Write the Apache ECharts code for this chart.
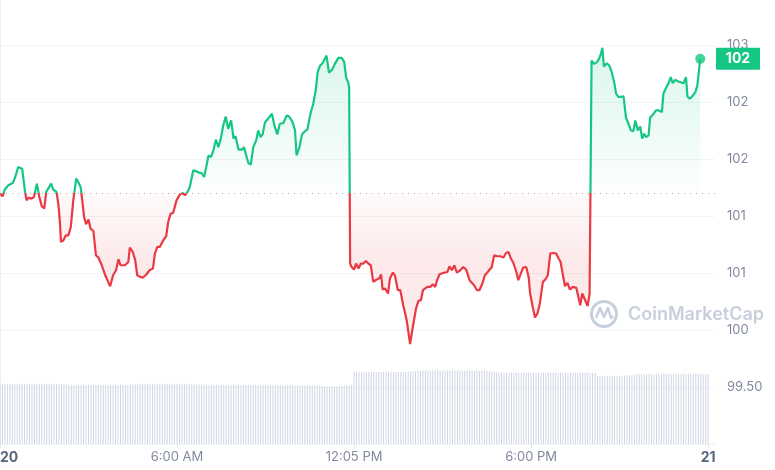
<!DOCTYPE html>
<html><head><meta charset="utf-8">
<script src="https://cdn.jsdelivr.net/npm/echarts@6/dist/echarts.min.js"></script>
<style>html,body{margin:0;padding:0;background:#fff}#c{width:775px;height:470px}</style>
</head><body><div id="c"></div>
<script>
// minutes since 00:00 on day 20
const times = [
0,5,10,17,26,31,37,41,45,51,
54,58,64,69,75,80,85,90,94,98,
104,108,115,119,122,124,129,134,139,144,
149,155,159,164,168,171,175,180,184,190,
195,200,207,214,220,224,230,236,241,245,
254,261,264,270,275,279,285,291,298,304,
311,315,320,325,332,338,342,347,352,359,
366,372,376,381,386,393,399,405,410,415,
420,424,429,434,439,444,449,454,459,464,
470,475,479,485,492,496,500,505,510,515,
521,525,530,534,539,544,548,553,558,564,
569,576,583,588,595,600,603,609,614,620,
625,631,637,642,646,651,656,660,664,669,
675,681,688,695,700,704,708,710,712,715,
720,724,729,734,739,744,749,754,759,766,
771,775,778,783,789,793,799,803,809,814,
820,827,834,839,846,851,856,860,864,869,
875,880,885,889,894,898,904,910,914,919,
924,929,936,942,948,955,959,964,970,975,
981,986,991,995,1000,1005,1010,1017,1024,1029,
1034,1039,1044,1050,1054,1059,1064,1070,1075,1078,
1084,1088,1093,1098,1104,1109,1114,1119,1125,1131,
1136,1140,1146,1149,1154,1159,1165,1172,1176,1180,
1184,1190,1195,1199,1203,1208,1214,1218,1222,1225,
1228,1234,1239,1244,1249,1253,1258,1262,1268,1273,
1278,1283,1288,1292,1297,1302,1306,1310,1314,1319,
1322,1328,1334,1340,1346,1349,1355,1359,1364,1368,
1373,1378,1384,1390,1395,1398,1403,1409,1414,1418,1424];
const prices = [
101.204,101.175,101.237,101.272,101.292,101.345,101.432,101.447,101.418,101.213,
101.140,101.164,101.155,101.169,101.287,101.169,101.088,101.068,101.213,101.243,
101.287,101.237,101.213,101.096,100.936,100.775,100.789,100.833,100.833,100.906,
101.140,101.331,101.301,101.257,101.111,100.994,100.930,100.971,100.892,100.871,
100.658,100.638,100.570,100.482,100.424,100.386,100.482,100.526,100.623,100.570,
100.570,100.599,100.725,100.687,100.614,100.482,100.468,100.462,100.491,100.526,
100.541,100.673,100.731,100.731,100.789,100.825,100.950,101.024,101.029,101.140,
101.193,101.204,101.184,101.211,101.257,101.404,101.395,101.383,101.380,101.345,
101.447,101.535,101.520,101.579,101.673,101.608,101.682,101.798,101.877,101.769,
101.842,101.682,101.704,101.585,101.585,101.608,101.594,101.468,101.454,101.608,
101.667,101.754,101.696,101.719,101.827,101.851,101.842,101.901,101.798,101.719,
101.813,101.818,101.886,101.877,101.827,101.754,101.535,101.608,101.719,101.748,
101.761,101.895,101.989,102.105,102.266,102.325,102.345,102.354,102.412,102.261,
102.287,102.339,102.392,102.392,102.354,102.217,102.178,102.134,100.585,100.555,
100.532,100.585,100.541,100.585,100.585,100.608,100.585,100.570,100.424,100.445,
100.453,100.489,100.357,100.366,100.322,100.453,100.506,100.482,100.351,100.351,
100.219,100.088,99.877,100.015,100.190,100.257,100.263,100.351,100.351,100.380,
100.380,100.404,100.380,100.439,100.491,100.482,100.506,100.511,100.561,100.526,
100.570,100.506,100.526,100.555,100.532,100.439,100.430,100.395,100.351,100.351,
100.410,100.482,100.506,100.497,100.555,100.658,100.649,100.649,100.638,100.678,
100.687,100.629,100.590,100.511,100.439,100.497,100.550,100.555,100.468,100.322,
100.190,100.111,100.147,100.239,100.424,100.445,100.482,100.673,100.678,100.673,
100.629,100.599,100.453,100.386,100.415,100.357,100.380,100.371,100.357,100.219,
100.322,100.263,100.211,100.322,102.368,102.339,102.354,102.383,102.427,102.480,
102.316,102.345,102.325,102.266,102.178,102.076,102.047,102.061,102.053,101.866,
101.813,101.754,101.748,101.842,101.754,101.789,101.682,101.725,101.696,101.711,
101.866,101.895,101.930,101.930,101.915,102.076,102.134,102.164,102.222,102.169,
102.199,102.187,102.178,102.169,102.222,102.053,102.032,102.061,102.090,102.149,102.383];
// 24h volume (millions), one bar every 5 minutes
const volumeStepMin = 5;
const volumes = [
600,602,601,603,600,599,601,602,600,601,603,602,600,601,599,600,602,601,600,603,
601,600,602,601,600,599,598,596,592,590,591,589,590,592,590,589,591,590,588,590,
589,591,590,592,590,589,590,591,589,590,592,591,590,594,598,601,600,602,601,603,
602,601,600,603,601,602,600,599,601,602,600,598,601,600,602,603,601,600,599,596,
594,592,593,591,592,590,591,593,592,590,589,591,592,590,591,589,590,592,591,590,
589,590,591,592,590,588,589,590,591,589,590,588,587,588,589,587,586,588,587,585,
586,585,587,586,585,584,585,586,584,583,580,578,577,576,578,577,575,576,578,580,
582,585,588,590,
725,722,720,719,721,718,720,722,719,718,720,721,719,722,720,723,721,720,719,722,
721,720,722,724,726,728,730,733,735,734,736,735,737,734,736,735,738,736,735,733,
736,734,735,737,735,736,733,734,735,736,734,733,735,732,730,728,725,722,720,718,
716,714,713,712,714,713,712,711,713,712,714,713,712,711,713,712,711,712,713,714,
712,713,711,712,714,713,712,710,711,713,712,711,712,713,712,711,
712,711,713,680,679,681,683,684,682,681,680,679,681,683,684,686,688,690,692,695,
700,701,699,700,702,701,700,699,701,702,703,701,700,702,701,700,699,700,702,701,
700,699,701,700,702,701,700,701,699];
const xTickValues = [0, 360, 720, 1080, 1440];
const xTickLabels = ['20', '6:00 AM', '12:05 PM', '6:00 PM', '21'];

const GREEN = '#16c784', RED = '#ea3943';
const base = prices[0];
const n = prices.length;
const lineData = times.map((t, i) => [t, prices[i]]);
const volData = volumes.map((v, i) => [i * volumeStepMin, v]);

const chart = echarts.init(document.getElementById('c'), null, {renderer: 'canvas'});
const FONT = 'Inter, "Noto Sans", sans-serif';
const option = {
  animation: false,
  textStyle: {fontFamily: FONT},
  grid: {left: 0, right: 60, top: 0, bottom: 26, containLabel: false, outerBoundsMode: 'none'},
  xAxis: {
    type: 'value', min: 0, max: 1454, interval: 360,
    axisLine: {show: true, lineStyle: {color: '#eff2f5'}},
    axisTick: {show: true, customValues: xTickValues, length: 4, lineStyle: {color: '#e2e5ec'}},
    splitLine: {show: false},
    axisLabel: {
      customValues: xTickValues, margin: 7, color: '#808a9d', fontSize: 13, fontFamily: FONT,
      alignMinLabel: 'left',
      formatter: v => {
        const k = xTickValues.indexOf(v);
        if (k < 0) return '';
        const s = xTickLabels[k];
        return (k === 0 || k === xTickLabels.length - 1) ? '{b|' + s + '}' : s;
      },
      rich: {b: {fontWeight: 'bold', color: '#58667e', fontSize: 14, fontFamily: FONT}}
    }
  },
  yAxis: [{
    type: 'value', position: 'right', min: 99, max: 102.9, interval: 0.5,
    axisLine: {show: true, lineStyle: {color: '#eff2f5'}},
    axisTick: {show: false},
    splitLine: {show: true, showMaxLine: false, lineStyle: {color: '#f2f4f7'}},
    axisLabel: {
      margin: 12, color: '#808a9d', fontSize: 13, fontFamily: FONT, showMaxLabel: false,
      formatter: v => v === 99 ? '' : (v === 99.5 ? '99.50' : String(Math.round(v)))
    }
  }, {
    type: 'value', min: 0, max: 4440, show: false
  }],
  visualMap: {
    show: false, type: 'piecewise', seriesIndex: 0, dimension: 1,
    pieces: [{gte: 0, lte: base, color: RED}, {gt: base, lte: 1000, color: GREEN}]
  },
  series: [{
    type: 'line', data: lineData, showSymbol: false, z: 3,
    lineStyle: {width: 2.2},
    areaStyle: {origin: base, color: 'rgba(22,199,132,0.15)'},
    markLine: {
      silent: true, symbol: 'none', label: {show: false},
      lineStyle: {color: '#a6acba', type: [1, 5], width: 1},
      data: [{yAxis: base}]
    }
  }, {
    type: 'scatter', data: [[times[n - 1], prices[n - 1]]], symbolSize: 10, z: 4,
    itemStyle: {color: GREEN}
  }, {
    type: 'bar', data: volData, yAxisIndex: 1, barWidth: 1, z: 1,
    itemStyle: {color: '#cfd6e4'}
  }]
};
chart.setOption(option);

const yTop = chart.convertToPixel({yAxisIndex: 0}, 102.9);
const yBot = chart.convertToPixel({yAxisIndex: 0}, 99);
const yBase = chart.convertToPixel({yAxisIndex: 0}, base);
const lastPt = chart.convertToPixel({gridIndex: 0}, [times[n - 1], prices[n - 1]]);
const H = yBot - yTop;
const b = (yBase - yTop) / H;
const areaGrad = new echarts.graphic.LinearGradient(0, yTop, 0, yBot, [
  {offset: 0, color: 'rgba(22,199,132,0.30)'},
  {offset: b, color: 'rgba(22,199,132,0.01)'},
  {offset: b, color: 'rgba(234,57,67,0.03)'},
  {offset: Math.min(1, b + 0.16), color: 'rgba(234,57,67,0.16)'},
  {offset: 1, color: 'rgba(234,57,67,0.05)'}
], true);
const gridRight = 775 - 60;
chart.setOption({
  series: [{areaStyle: {origin: base, color: areaGrad}}],
  graphic: [
    {type: 'circle', shape: {cx: 604, cy: 314, r: 12.5}, style: {fill: 'none', stroke: '#c8cfdc', lineWidth: 3}, z: 10},
    {type: 'polyline', shape: {points: [[596, 318], [600, 308], [604, 317], [608, 308], [611, 318], [613, 316]]}, style: {fill: 'none', stroke: '#c8cfdc', lineWidth: 2.5, lineJoin: 'round'}, z: 10},
    {type: 'text', x: 628, y: 315, style: {text: 'CoinMarketCap', font: '600 18px Inter, sans-serif', fill: '#c8cfdc', verticalAlign: 'middle'}, z: 10},
    {type: 'rect', shape: {x: gridRight + 1, y: lastPt[1] - 11, width: 44, height: 22, r: 1}, style: {fill: GREEN}, z: 20},
    {type: 'text', x: gridRight + 23, y: lastPt[1], style: {text: String(Math.round(prices[n - 1])), font: 'bold 14px Inter, sans-serif', fill: '#ffffff', align: 'center', verticalAlign: 'middle'}, z: 21}
  ]
});
</script></body></html>
